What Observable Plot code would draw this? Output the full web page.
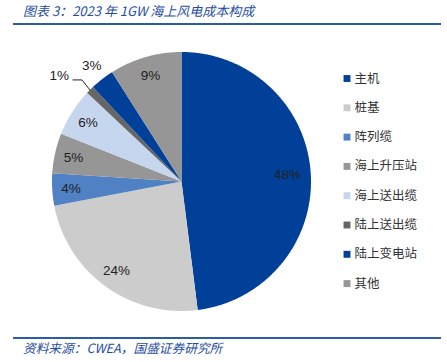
<!DOCTYPE html>
<html>
<head>
<meta charset="utf-8">
<script src="https://cdn.jsdelivr.net/npm/d3@7"></script>
<script src="https://cdn.jsdelivr.net/npm/@observablehq/plot@0.6"></script>
<style>
  html, body { margin: 0; padding: 0; background: #fff; }
  #wrap { position: relative; width: 447px; height: 362px; overflow: hidden; }
  #title { position: absolute; left: 23px; top: 3px; font-family: "Noto Sans CJK SC", sans-serif; font-style: italic; font-size: 13px; color: #1f4e9e; white-space: nowrap; line-height: 16px; }
  #tline { position: absolute; left: 13px; top: 23px; width: 428px; height: 2px; background: #2a5caa; }
  #chart { position: absolute; left: 0; top: 30px; }
  #bline { position: absolute; left: 13px; top: 337px; width: 428px; height: 1.5px; background: #2a5caa; }
  #source { position: absolute; left: 23px; top: 340px; font-family: "Noto Sans CJK SC", sans-serif; font-style: italic; font-size: 12.7px; color: #1f4e9e; white-space: nowrap; line-height: 16px; }
</style>
</head>
<body>
<div id="wrap">
  <div id="title"></div>
  <div id="tline"></div>
  <div id="chart"></div>
  <div id="bline"></div>
  <div id="source"></div>
</div>
<script>
const titleText = "图表 3：2023 年 1GW 海上风电成本构成";
const sourceText = "资料来源：CWEA，国盛证券研究所";
const categories = ["主机", "桩基", "阵列缆", "海上升压站", "海上送出缆", "陆上送出缆", "陆上变电站", "其他"];
const values = [48, 24, 4, 5, 6, 1, 3, 9];
const labels = ["48%", "24%", "4%", "5%", "6%", "1%", "3%", "9%"];
const colors = ["#004098", "#cccccc", "#4f81c4", "#969696", "#c6d6ee", "#666666", "#004098", "#969696"];

document.getElementById("title").textContent = titleText;
document.getElementById("source").textContent = sourceText;

const W = 447, H = 300;
const cx = 181, cy = 151, r = 129.5;
const data = categories.map((c, i) => ({name: c, value: values[i], label: labels[i]}));
const arcs = d3.pie().sort(null).value(d => d.value)(data);
const pt = (a, rr) => [cx + rr * Math.sin(a), cy - rr * Math.cos(a)];

// slice polygons
const poly = [];
arcs.forEach(a => {
  const n = Math.max(2, Math.ceil((a.endAngle - a.startAngle) / (Math.PI / 360)));
  poly.push({name: a.data.name, x: cx, y: cy});
  for (let k = 0; k <= n; k++) {
    const ang = a.startAngle + (a.endAngle - a.startAngle) * k / n;
    const [x, y] = pt(ang, r);
    poly.push({name: a.data.name, x, y});
  }
});

// labels
const labelPts = [];
const leader = [];
arcs.forEach(a => {
  const mid = (a.startAngle + a.endAngle) / 2;
  let x, y, anchor = "middle";
  if (a.data.value >= 4) {
    [x, y] = pt(mid, r * (a.data.value > 40 ? 0.82 : 0.855));
  } else if (a.data.value >= 2) {
    [x, y] = pt(mid, r * 1.13);
  } else {
    const [ex, ey] = pt(mid, r);
    const elbow = [ex - 8, ey - 10];
    const end = [elbow[0] - 9, elbow[1]];
    leader.push({x: ex, y: ey}, {x: elbow[0], y: elbow[1]}, {x: end[0], y: end[1]});
    x = end[0] - 4; y = end[1] - 4; anchor = "end";
  }
  labelPts.push({label: a.data.label, x, y, anchor});
});

const legend = categories.map((c, i) => ({name: c, x: 346.5, y: 48 + i * 29.3}));

const plot = Plot.plot({
  width: W, height: H,
  margin: 0,
  x: {domain: [0, W], range: [0, W], axis: null},
  y: {domain: [0, H], range: [0, H], axis: null},
  color: {domain: categories, range: colors},
  style: {background: "transparent"},
  marks: [
    Plot.line(poly, {x: "x", y: "y", z: "name", fill: "name", stroke: "none", curve: "linear-closed"}),
    Plot.line(leader, {x: "x", y: "y", stroke: "#222", strokeWidth: 1}),
    Plot.text(labelPts.filter(d => d.anchor === "middle"), {x: "x", y: "y", text: "label", fontSize: 13.5, fontFamily: "Liberation Sans, Arial, sans-serif", fill: "#222"}),
    Plot.text(labelPts.filter(d => d.anchor === "end"), {x: "x", y: "y", text: "label", textAnchor: "end", fontSize: 13.5, fontFamily: "Liberation Sans, Arial, sans-serif", fill: "#222"}),
    Plot.dot(legend, {x: "x", y: "y", fill: "name", symbol: "square", r: 3.9, stroke: "none"}),
    Plot.text(legend, {x: d => d.x + 7.5, y: "y", text: "name", textAnchor: "start", fontSize: 12.5, fontFamily: "Noto Sans CJK SC, sans-serif", fill: "#333"})
  ]
});
document.getElementById("chart").appendChild(plot);
</script>
</body>
</html>
